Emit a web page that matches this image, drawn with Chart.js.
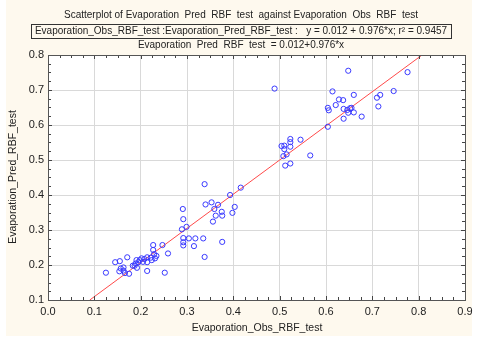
<!DOCTYPE html>
<html>
<head>
<meta charset="utf-8">
<script src="https://cdn.jsdelivr.net/npm/chart.js@4"></script>
<style>
  html, body { margin: 0; padding: 0; background: #ffffff; }
  #wrap { width: 480px; height: 342px; }
</style>
</head>
<body>
<div id="wrap"><canvas id="chart" width="480" height="342"></canvas></div>
<script>
// --- DADES ---
const obsValues = [
  0.648, 0.776, 0.489, 0.614, 0.746, 0.660, 0.717, 0.710, 0.628, 0.637,
  0.621, 0.713, 0.604, 0.606, 0.638, 0.646, 0.652, 0.655, 0.648, 0.660,
  0.677, 0.638, 0.604, 0.523, 0.523, 0.545, 0.504, 0.510, 0.523, 0.510,
  0.515, 0.508, 0.566, 0.523, 0.512, 0.416, 0.338, 0.393, 0.353, 0.340,
  0.367, 0.403, 0.359, 0.291, 0.375, 0.398, 0.362, 0.376, 0.292, 0.356,
  0.299, 0.289, 0.292, 0.304, 0.318, 0.335, 0.292, 0.376, 0.292, 0.315,
  0.227, 0.247, 0.227, 0.259, 0.229, 0.234, 0.338, 0.171, 0.214, 0.222,
  0.202, 0.231, 0.208, 0.191, 0.198, 0.224, 0.145, 0.155, 0.205, 0.195,
  0.214, 0.189, 0.183, 0.187, 0.163, 0.192, 0.157, 0.163, 0.154, 0.214,
  0.125, 0.166, 0.175, 0.252
];
const predValues = [
  0.755, 0.751, 0.704, 0.696, 0.697, 0.686, 0.686, 0.678, 0.673, 0.671,
  0.657, 0.653, 0.649, 0.642, 0.646, 0.643, 0.648, 0.649, 0.635, 0.636,
  0.624, 0.618, 0.595, 0.560, 0.551, 0.558, 0.540, 0.541, 0.538, 0.531,
  0.516, 0.511, 0.513, 0.490, 0.484, 0.421, 0.431, 0.400, 0.379, 0.373,
  0.372, 0.366, 0.360, 0.360, 0.352, 0.349, 0.341, 0.341, 0.331, 0.324,
  0.309, 0.302, 0.277, 0.276, 0.276, 0.276, 0.265, 0.266, 0.256, 0.254,
  0.257, 0.257, 0.243, 0.233, 0.231, 0.226, 0.223, 0.222, 0.222, 0.221,
  0.219, 0.219, 0.217, 0.214, 0.214, 0.214, 0.208, 0.211, 0.209, 0.208,
  0.208, 0.204, 0.198, 0.198, 0.193, 0.192, 0.190, 0.184, 0.182, 0.183,
  0.178, 0.177, 0.175, 0.178
];
const fitIntercept = 0.012;
const fitSlope = 0.976;
const xTicks = [0.0, 0.1, 0.2, 0.3, 0.4, 0.5, 0.6, 0.7, 0.8, 0.9];
const yTicks = [0.1, 0.2, 0.3, 0.4, 0.5, 0.6, 0.7, 0.8];

const titleLine = "Scatterplot of Evaporation  Pred  RBF  test  against Evaporation  Obs  RBF  test";
const boxLine = "Evaporation_Obs_RBF_test :Evaporation_Pred_RBF_test :   y = 0.012 + 0.976*x; r\u00B2 = 0.9457";
const eqLine = "Evaporation  Pred  RBF  test  = 0.012+0.976*x";
const xTitle = "Evaporation_Obs_RBF_test";
const yTitle = "Evaporation_Pred_RBF_test";

const FONT = "Liberation Sans, Arial, sans-serif";
const TXT = "#222222";

const points = obsValues.map((v, i) => ({ x: v, y: predValues[i] }));

// recta de regressio retallada al rang de l'eix Y
const yMin = yTicks[0], yMax = yTicks[yTicks.length - 1];
const fitLine = [
  { x: (yMin - fitIntercept) / fitSlope, y: yMin },
  { x: (yMax - fitIntercept) / fitSlope, y: yMax },
];

// fons, marc, marques menors i textos
const decor = {
  id: "decor",
  beforeDraw(chart) {
    const ctx = chart.ctx;
    ctx.save();
    ctx.fillStyle = "#ffffff";
    ctx.fillRect(0, 0, chart.width, chart.height);
    ctx.fillStyle = "#fef9ee";
    ctx.fillRect(6, 0, 466, 336);
    const a = chart.chartArea;
    ctx.fillStyle = "#ffffff";
    ctx.fillRect(a.left, a.top, a.right - a.left, a.bottom - a.top);
    ctx.restore();
  },
  afterDatasetsDraw(chart) {
    const ctx = chart.ctx;
    const a = chart.chartArea;
    const xs = chart.scales.x, ys = chart.scales.y;
    ctx.save();
    ctx.strokeStyle = "#444444";
    ctx.lineWidth = 1;
    ctx.beginPath();
    for (let v = 0; v <= 0.9001; v += 0.025) {
      const px = Math.round(xs.getPixelForValue(v)) + 0.5;
      const len = Math.abs((v * 10) - Math.round(v * 10)) < 1e-6 ? 4 : 3;
      ctx.moveTo(px, a.bottom); ctx.lineTo(px, a.bottom - len);
      ctx.moveTo(px, a.top); ctx.lineTo(px, a.top + len);
    }
    for (let v = 0.1; v <= 0.8001; v += 0.025) {
      const py = Math.round(ys.getPixelForValue(v)) + 0.5;
      const len = Math.abs((v * 10) - Math.round(v * 10)) < 1e-6 ? 4 : 3;
      ctx.moveTo(a.left, py); ctx.lineTo(a.left + len, py);
      ctx.moveTo(a.right, py); ctx.lineTo(a.right - len, py);
    }
    ctx.stroke();
    ctx.strokeStyle = "#555555";
    ctx.strokeRect(Math.round(a.left) + 0.5, Math.round(a.top) + 0.5,
      Math.round(a.right - a.left), Math.round(a.bottom - a.top));

    // textos
    ctx.fillStyle = TXT;
    ctx.font = "10px " + FONT;
    ctx.textAlign = "center";
    ctx.textBaseline = "middle";
    ctx.fillText(titleLine, 241, 15);
    ctx.fillText(boxLine, 241, 31);
    const w = ctx.measureText(boxLine).width;
    ctx.strokeStyle = "#333333";
    ctx.strokeRect(Math.round(241 - w / 2 - 4) + 0.5, 24.5, Math.round(w + 8), 14);
    ctx.fillText(eqLine, 241, 45);
    ctx.font = "10.5px " + FONT;
    ctx.fillText(xTitle, 257, 328);
    ctx.translate(13, 177);
    ctx.rotate(-Math.PI / 2);
    ctx.fillText(yTitle, 0, 0);
    ctx.restore();
  },
};

new Chart(document.getElementById("chart"), {
  type: "scatter",
  data: {
    datasets: [
      {
        label: "obs vs pred",
        data: points,
        pointStyle: "circle",
        pointRadius: 2.6,
        pointBorderWidth: 1,
        pointBorderColor: "#3a3aff",
        pointBackgroundColor: "rgba(0,0,0,0)",
        showLine: false,
        order: 1,
      },
      {
        type: "line",
        label: "fit",
        data: fitLine,
        borderColor: "#ff4a4a",
        borderWidth: 1,
        pointRadius: 0,
        fill: false,
        order: 2,
      },
    ],
  },
  options: {
    responsive: false,
    animation: false,
    events: [],
    layout: { padding: { left: 0, right: 15, top: 55, bottom: 0 } },
    plugins: { legend: { display: false }, tooltip: { enabled: false } },
    scales: {
      x: {
        type: "linear",
        min: xTicks[0],
        max: xTicks[xTicks.length - 1],
        afterBuildTicks: (s) => { s.ticks = xTicks.map((v) => ({ value: v })); },
        afterFit: (s) => { s.height = 42; },
        grid: { color: "#d9d9d9", drawTicks: false, lineWidth: 1 },
        border: { display: false },
        ticks: {
          padding: 5,
          color: TXT,
          font: { family: FONT, size: 11 },
          callback: (v) => Number(v).toFixed(1),
          maxRotation: 0,
          autoSkip: false,
        },
      },
      y: {
        type: "linear",
        min: yMin,
        max: yMax,
        afterBuildTicks: (s) => { s.ticks = yTicks.map((v) => ({ value: v })); },
        afterFit: (s) => { s.width = 48; },
        grid: { color: "#d9d9d9", drawTicks: false, lineWidth: 1 },
        border: { display: false },
        ticks: {
          padding: 4,
          color: TXT,
          font: { family: FONT, size: 11 },
          callback: (v) => Number(v).toFixed(1),
          autoSkip: false,
        },
      },
    },
  },
  plugins: [decor],
});
</script>
</body>
</html>
